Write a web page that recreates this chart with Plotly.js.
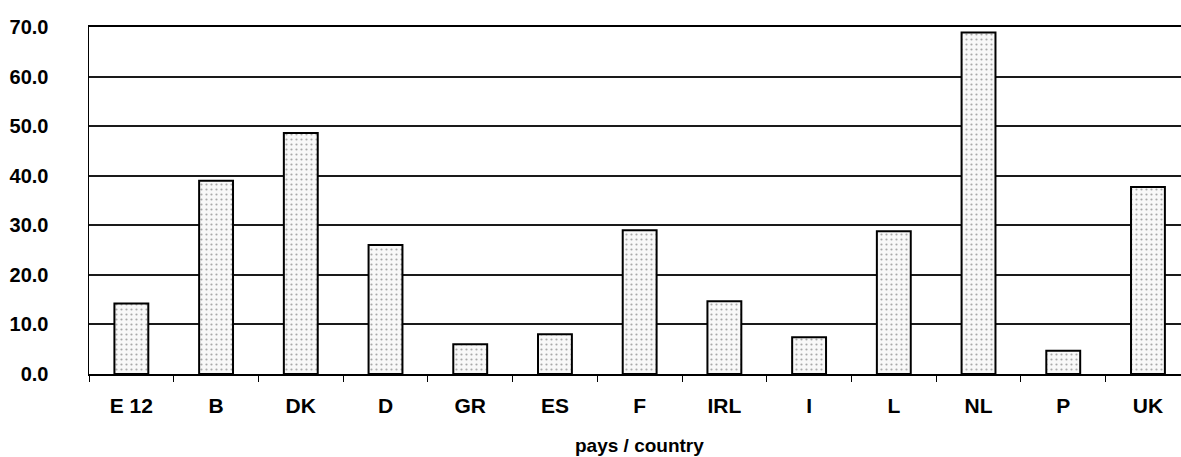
<!DOCTYPE html>
<html>
<head>
<meta charset="utf-8">
<script src="https://cdn.plot.ly/plotly-3.0.1.min.js"></script>
<style>html,body{margin:0;padding:0;background:#fff;}#chart{width:1181px;height:457px;}</style>
</head>
<body>
<div id="chart"></div>
<script>
const countries = ["E 12", "B", "DK", "D", "GR", "ES", "F", "IRL", "I", "L", "NL", "P", "UK"];
const values = [14.2, 39.0, 48.6, 26.0, 6.0, 8.0, 29.0, 14.7, 7.4, 28.8, 68.9, 4.7, 37.7];
const yTicks = [0, 10, 20, 30, 40, 50, 60, 70];
const xTitle = "pays / country";

const FONT = "Liberation Sans, Arial, sans-serif";

const trace = {
  type: "bar",
  x: countries,
  y: values,
  width: 0.4,
  marker: {
    color: "#f6f6f6",
    line: {color: "#000", width: 2},
    pattern: {shape: ".", fgcolor: "#a8a8a8", bgcolor: "#f8f8f8", size: 5, solidity: 0.15}
  },
  hoverinfo: "x+y"
};

const layout = {
  width: 1181, height: 457,
  margin: {l: 89, r: 0, t: 27, b: 83, pad: 0},
  paper_bgcolor: "#fff", plot_bgcolor: "#fff",
  showlegend: false,
  bargap: 0.6,
  font: {family: FONT, color: "#000"},
  xaxis: {
    type: "category",
    range: [-0.5, 12.39],
    showgrid: false,
    showline: true, linecolor: "#000", linewidth: 2, mirror: true,
    ticks: "outside", ticklen: 6, tickwidth: 1, tickcolor: "#000",
    tickson: "boundaries",
    tickfont: {family: FONT, size: 21, color: "#000", weight: "bold"},
    ticklabelstandoff: 12,
    zeroline: false
  },
  yaxis: {
    range: [0, 70],
    tickvals: yTicks,
    ticktext: yTicks.map(v => v.toFixed(1)),
    showgrid: true, gridcolor: "#1a1a1a", gridwidth: 2,
    showline: true, linecolor: "#000", linewidth: 1.5,
    ticks: "",
    tickfont: {family: FONT, size: 20, color: "#000", weight: "bold"},
    ticklabelstandoff: 35,
    zeroline: false
  },
  annotations: [{
    text: xTitle,
    xref: "paper", yref: "paper",
    x: 0.504, y: -0.205, xanchor: "center", yanchor: "middle",
    showarrow: false,
    font: {family: FONT, size: 19, color: "#000", weight: "bold"}
  }]
};

Plotly.newPlot("chart", [trace], layout, {displayModeBar: false, staticPlot: true});
</script>
</body>
</html>
